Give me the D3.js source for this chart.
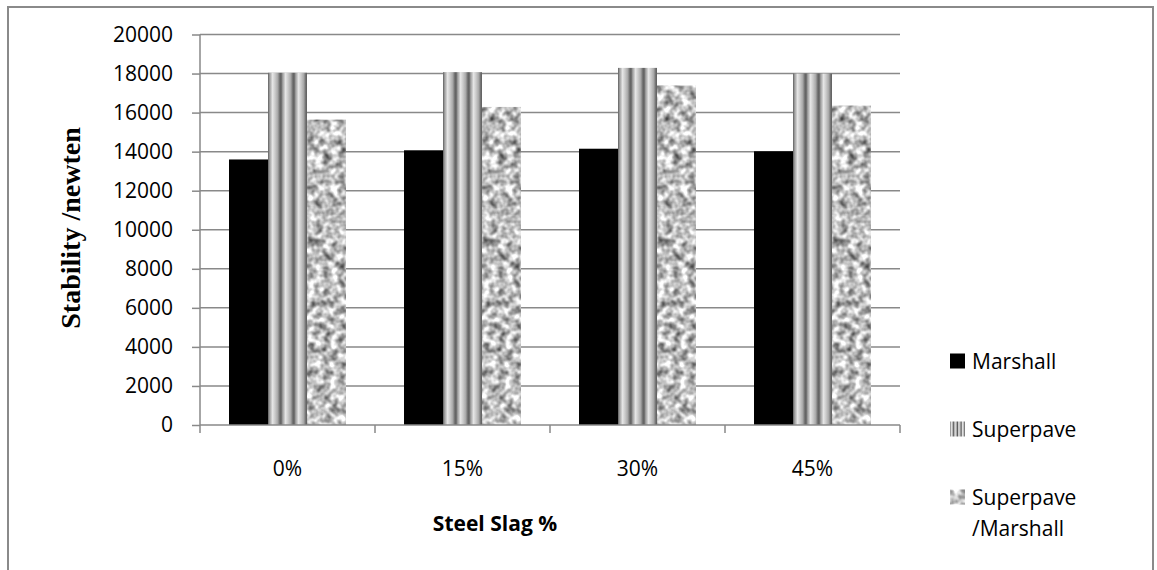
<!DOCTYPE html>
<html>
<head>
<meta charset="utf-8">
<script src="https://cdn.jsdelivr.net/npm/d3@7"></script>
<style>
  html, body { margin: 0; padding: 0; background: #fff; }
  svg { display: block; }
</style>
</head>
<body>
<svg id="chart" width="1157" height="570"></svg>
<script>
// Stability by steel slag content for three compaction methods
const categories = ["0%", "15%", "30%", "45%"];
const seriesNames = ["Marshall", "Superpave", "Superpave /Marshall"];
const marshall = [13600, 14070, 14150, 14020];
const superpave = [18040, 18070, 18290, 18000];
const superpaveMarshall = [15640, 16290, 17390, 16360];
const yTicks = [0, 2000, 4000, 6000, 8000, 10000, 12000, 14000, 16000, 18000, 20000];

const seriesValues = [marshall, superpave, superpaveMarshall];

const svg = d3.select("#chart");
const plot = { left: 200, right: 900, top: 34.5, bottom: 425 };
const tickFont = "'Open Sans', 'Liberation Sans', sans-serif";
const gridColor = "#898989";

// ---- fills ----
const defs = svg.append("defs");

// ribbed vertical stripes
function stripeGradient(id, repeats) {
  const g = defs.append("linearGradient")
    .attr("id", id)
    .attr("gradientUnits", "objectBoundingBox")
    .attr("x1", 0).attr("y1", 0).attr("x2", 1 / repeats).attr("y2", 0)
    .attr("spreadMethod", "repeat");
  [[0, "#5e5e5e"], [0.12, "#9a9a9a"], [0.35, "#e6e6e6"], [0.55, "#c9c9c9"],
   [0.75, "#a8a8a8"], [0.9, "#707070"], [1, "#5e5e5e"]]
    .forEach(([o, c]) => g.append("stop").attr("offset", o).attr("stop-color", c));
}
stripeGradient("stripes", 3);
stripeGradient("stripesSmall", 4);

// granite texture
const granite = defs.append("filter")
  .attr("id", "granite")
  .attr("x", 0).attr("y", 0).attr("width", 1).attr("height", 1)
  .attr("filterUnits", "objectBoundingBox")
  .attr("color-interpolation-filters", "sRGB");
granite.append("feTurbulence")
  .attr("type", "fractalNoise")
  .attr("baseFrequency", 0.13)
  .attr("numOctaves", 2)
  .attr("seed", 7)
  .attr("result", "noise");
granite.append("feColorMatrix")
  .attr("in", "noise")
  .attr("type", "matrix")
  .attr("values", "1.25 0 0 0 0.12  1.25 0 0 0 0.12  1.25 0 0 0 0.12  0 0 0 0 1")
  .attr("result", "gray");
granite.append("feComposite")
  .attr("in", "gray")
  .attr("in2", "SourceGraphic")
  .attr("operator", "in");

const fills = ["#000000", "url(#stripes)", "#c4c4c4"];
const filters = [null, null, "url(#granite)"];
const legendFills = ["#000000", "url(#stripesSmall)", "#c4c4c4"];

// ---- outer frame ----
svg.append("rect")
  .attr("x", 8).attr("y", 7)
  .attr("width", 1145).attr("height", 600)
  .attr("fill", "none")
  .attr("stroke", "#8a8a8a")
  .attr("stroke-width", 2);

// ---- scales ----
const x = d3.scaleBand().domain(categories).range([plot.left, plot.right]).paddingInner(0).paddingOuter(0);
const xs = d3.scaleBand().domain(seriesNames).range([0, x.bandwidth()]).paddingInner(0).paddingOuter(0.744);
const y = d3.scaleLinear().domain([0, 20000]).range([plot.bottom, plot.top]);

// ---- gridlines ----
svg.append("g")
  .selectAll("line")
  .data(yTicks.filter(d => d > 0))
  .join("line")
  .attr("x1", plot.left).attr("x2", plot.right)
  .attr("y1", d => y(d)).attr("y2", d => y(d))
  .attr("stroke", gridColor)
  .attr("stroke-width", 1.5);

// ---- bars ----
const groups = svg.append("g")
  .selectAll("g")
  .data(categories)
  .join("g")
  .attr("transform", d => `translate(${x(d)},0)`);

groups.selectAll("rect")
  .data((c, ci) => seriesNames.map((s, si) => ({ s, si, v: seriesValues[si][ci] })))
  .join("rect")
  .attr("x", d => xs(d.s))
  .attr("width", xs.bandwidth())
  .attr("y", d => y(d.v))
  .attr("height", d => y(0) - y(d.v))
  .attr("fill", d => fills[d.si])
  .attr("filter", d => filters[d.si]);

// ---- y axis ----
const yAxis = svg.append("g")
  .attr("transform", `translate(${plot.left},0)`)
  .call(d3.axisLeft(y).tickValues(yTicks).tickSize(8).tickPadding(19).tickFormat(d3.format("d")));
yAxis.select(".domain").attr("stroke", gridColor).attr("stroke-width", 1.5)
  .attr("d", `M0,${plot.top}V${plot.bottom}`);
yAxis.selectAll(".tick line").attr("stroke", gridColor).attr("stroke-width", 1.5);
yAxis.selectAll(".tick text")
  .attr("font-family", tickFont).attr("font-size", 21).attr("fill", "#000");

// ---- x axis ----
const xAxisG = svg.append("g");
xAxisG.append("line")
  .attr("x1", plot.left).attr("x2", plot.right)
  .attr("y1", plot.bottom).attr("y2", plot.bottom)
  .attr("stroke", gridColor).attr("stroke-width", 1.5);
const boundaries = categories.map(c => x(c)).concat([x(categories[categories.length - 1]) + x.bandwidth()]);
xAxisG.selectAll("line.tk")
  .data(boundaries)
  .join("line")
  .attr("class", "tk")
  .attr("x1", d => d).attr("x2", d => d)
  .attr("y1", plot.bottom).attr("y2", plot.bottom + 8)
  .attr("stroke", gridColor).attr("stroke-width", 1.5);
xAxisG.selectAll("text")
  .data(categories)
  .join("text")
  .attr("x", d => x(d) + x.bandwidth() / 2)
  .attr("y", 476)
  .attr("text-anchor", "middle")
  .attr("font-family", tickFont).attr("font-size", 21)
  .text(d => d);

// ---- axis titles ----
svg.append("text")
  .attr("x", 495).attr("y", 531)
  .attr("text-anchor", "middle")
  .attr("font-family", tickFont).attr("font-size", 21).attr("font-weight", "bold")
  .text("Steel Slag %");

svg.append("text")
  .attr("transform", "translate(80,228) rotate(-90)")
  .attr("text-anchor", "middle")
  .attr("font-family", "'Liberation Serif', 'Times New Roman', serif")
  .attr("font-size", 28).attr("font-weight", "bold")
  .text("Stability /newten");

// ---- legend ----
const legendRows = [
  { lines: ["Marshall"], y: 361 },
  { lines: ["Superpave"], y: 429 },
  { lines: ["Superpave", "/Marshall"], y: 497 }
];
const legend = svg.append("g");
legendRows.forEach((row, i) => {
  legend.append("rect")
    .attr("x", 950).attr("y", row.y - 7.5)
    .attr("width", 15).attr("height", 15)
    .attr("fill", legendFills[i])
    .attr("filter", filters[i]);
  const t = legend.append("text")
    .attr("x", 972).attr("y", row.y + 7.5)
    .attr("font-family", tickFont).attr("font-size", 21);
  row.lines.forEach((ln, li) => {
    t.append("tspan").attr("x", 972).attr("dy", li === 0 ? 0 : 31).text(ln);
  });
});
</script>
</body>
</html>
